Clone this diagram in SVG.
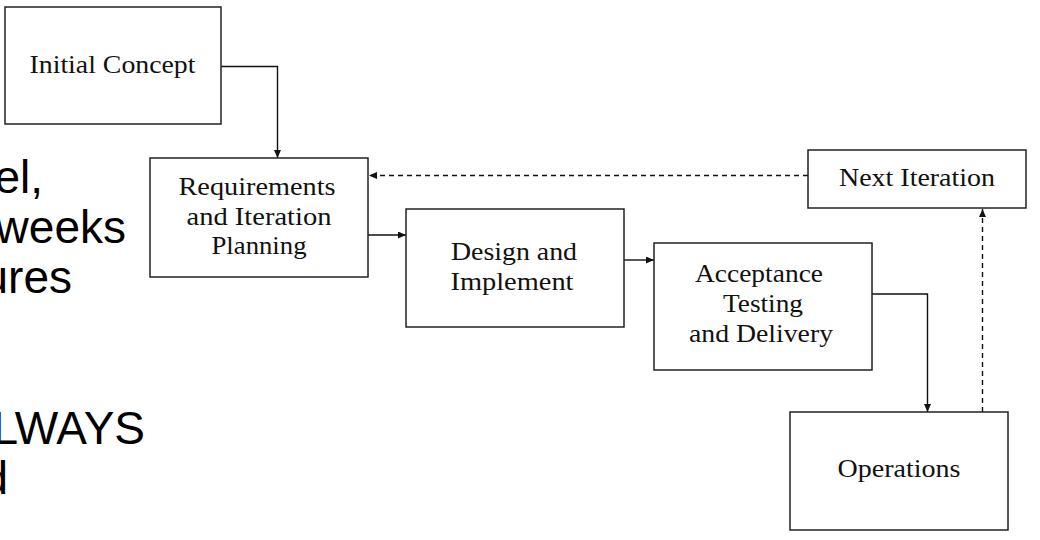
<svg xmlns="http://www.w3.org/2000/svg" width="1040" height="540" viewBox="0 0 1040 540">
  <defs>
    <marker id="arrow" markerWidth="8" markerHeight="7" refX="8" refY="3.5" orient="auto" markerUnits="userSpaceOnUse">
      <path d="M0,0 L8,3.5 L0,7 z" fill="#111"/>
    </marker>
  </defs>
  <style>
    .box { fill: #ffffff; stroke: #222222; stroke-width: 1.5; }
    .lbl { font-family: "Liberation Serif", "Times New Roman", serif; font-size: 25px; fill: #111111; text-anchor: middle; }
    .side { font-family: "Liberation Sans", Arial, sans-serif; font-size: 46px; fill: #000000; text-anchor: end; }
    .conn { fill: none; stroke: #111111; stroke-width: 1.4; }
    .dash { stroke-dasharray: 5 4; }
  </style>
  <rect width="1040" height="540" fill="#ffffff"/>

  <g id="slide-text">
    <text class="side" x="43" y="193">el,</text>
    <text class="side" x="126" y="243">weeks</text>
    <text class="side" x="72" y="293">ures</text>
    <text class="side" x="145" y="444">LWAYS</text>
    <text class="side" x="8" y="494">d</text>
  </g>

  <g id="connectors">
    <path class="conn" d="M221,66.5 H277.5 V158" marker-end="url(#arrow)"/>
    <path class="conn" d="M368,235 H406" marker-end="url(#arrow)"/>
    <path class="conn" d="M624,260 H654" marker-end="url(#arrow)"/>
    <path class="conn" d="M872,294 H927.5 V412" marker-end="url(#arrow)"/>
    <path class="conn dash" d="M982.5,412 V209" marker-end="url(#arrow)"/>
    <path class="conn dash" d="M808,175.5 H369" marker-end="url(#arrow)"/>
  </g>

  <g id="initial-concept">
    <rect class="box" x="5" y="7" width="216" height="117"/>
    <text class="lbl" x="112.5" y="73" textLength="166" lengthAdjust="spacingAndGlyphs">Initial Concept</text>
  </g>

  <g id="requirements">
    <rect class="box" x="150" y="158" width="218" height="119"/>
    <text class="lbl" x="257" y="194.5" textLength="157" lengthAdjust="spacingAndGlyphs">Requirements</text>
    <text class="lbl" x="259" y="224.5" textLength="145" lengthAdjust="spacingAndGlyphs">and Iteration</text>
    <text class="lbl" x="259" y="253.5" textLength="95" lengthAdjust="spacingAndGlyphs">Planning</text>
  </g>

  <g id="design">
    <rect class="box" x="406" y="209" width="218" height="118"/>
    <text class="lbl" x="514" y="260" textLength="126" lengthAdjust="spacingAndGlyphs">Design and</text>
    <text class="lbl" x="512" y="290" textLength="123" lengthAdjust="spacingAndGlyphs">Implement</text>
  </g>

  <g id="acceptance">
    <rect class="box" x="654" y="243" width="218" height="127"/>
    <text class="lbl" x="759" y="282" textLength="128" lengthAdjust="spacingAndGlyphs">Acceptance</text>
    <text class="lbl" x="763" y="312" textLength="80" lengthAdjust="spacingAndGlyphs">Testing</text>
    <text class="lbl" x="761" y="342" textLength="144" lengthAdjust="spacingAndGlyphs">and Delivery</text>
  </g>

  <g id="next-iteration">
    <rect class="box" x="808" y="150" width="218" height="58"/>
    <text class="lbl" x="917" y="186" textLength="156" lengthAdjust="spacingAndGlyphs">Next Iteration</text>
  </g>

  <g id="operations">
    <rect class="box" x="790" y="412" width="218" height="118"/>
    <text class="lbl" x="899" y="477" textLength="123" lengthAdjust="spacingAndGlyphs">Operations</text>
  </g>
</svg>
